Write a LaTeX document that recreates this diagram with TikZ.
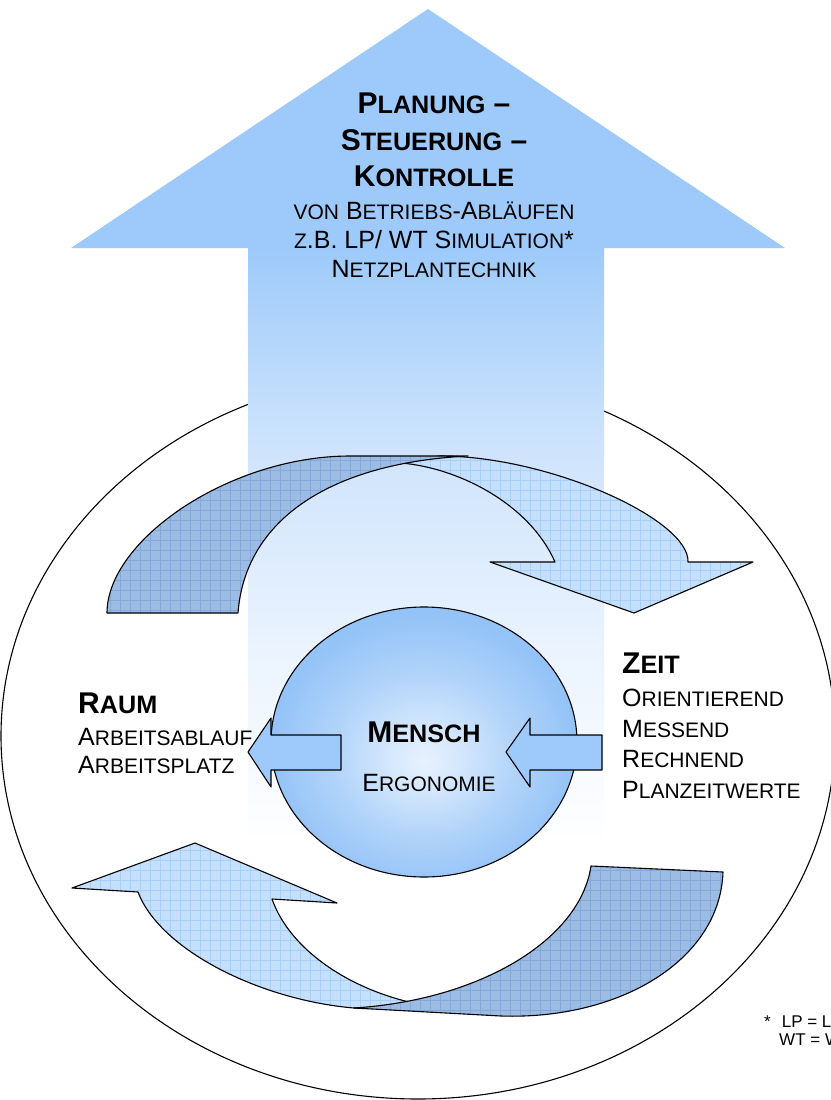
\documentclass[tikz,border=0pt]{standalone}
\usepackage{fontspec}
\setmainfont{Liberation Sans}
\usetikzlibrary{positioning}

\definecolor{arrowblue}{HTML}{9DCAFA}
\definecolor{shaftmid}{HTML}{CDE3FC}
\definecolor{shaftlow}{HTML}{EAF3FE}
\definecolor{darkhatch}{HTML}{9DBCE4}
\definecolor{darkgrid}{HTML}{84A9D8}
\definecolor{lighthatch}{HTML}{C4E0FD}
\definecolor{lightgrid}{HTML}{A9CEF8}
\definecolor{ballout}{HTML}{94C3F7}
\definecolor{ballin}{HTML}{E8F2FE}

% tikz fits the band 25bp..75bp of a shading to the path
\pgfdeclareverticalshading{shaftfade}{100bp}{color(0bp)=(white); color(27bp)=(white); color(43bp)=(shaftlow); color(59.5bp)=(shaftmid); color(75bp)=(arrowblue); color(100bp)=(arrowblue)}
\pgfdeclareradialshading{menschglow}{\pgfpoint{0bp}{-3.5bp}}{color(0bp)=(ballin); color(5bp)=(ballin!80!ballout); color(15bp)=(ballin!35!ballout); color(25bp)=(ballout); color(50bp)=(ballout)}

% small caps by hand
\makeatletter
\newcommand\kl[1]{{\fontsize{\fpeval{0.84*\f@size}}{\f@baselineskip}\selectfont #1}}
\makeatother

% the four pieces of the two turning arrows
\newcommand\upperdark{(107,613) .. controls (107,540) and (230,456) .. (350,456) -- (468,456) .. controls (330,463) and (245,520) .. (238,613) -- cycle}
\newcommand\upperlight{(401,463) -- (430,457) -- (440,456) .. controls (550,456) and (690,520) .. (688,562) -- (753,562) -- (634,613) -- (490,562) -- (555,562) .. controls (530,505) and (460,468) .. (401,463) -- cycle}
\newcommand\lowerlight{(72,888) -- (195,843) -- (337,903) -- (272,899) .. controls (290,950) and (350,990) .. (418,1004) -- (440,1008) -- (354,1008) .. controls (260,1000) and (160,950) .. (138,892) -- cycle}
\newcommand\lowerdark{(591,866) -- (723,872) .. controls (720,960) and (620,1020) .. (501,1016) -- (354,1008) .. controls (480,1000) and (580,940) .. (591,866) -- cycle}
\newcommand\hatchpiece[3]{%
  \begin{scope}
    \clip #1;
    \fill[#2] (0,0) rectangle (830,1100);
    \draw[#3, line width=0.5pt, step=10pt] (0,1100) grid (830,0);
  \end{scope}
  \draw[outline] #1;}

\begin{document}
\begin{tikzpicture}[x=1pt,y=-1pt,
  outline/.style={draw=black, line width=1.1pt, line join=round},
  titletext/.style={font={\fontsize{30}{36}\selectfont\bfseries}, inner sep=0pt},
  bodytext/.style={font={\fontsize{25}{29}\selectfont}, inner sep=0pt},
  notetext/.style={font={\fontsize{17}{19}\selectfont}, inner sep=0pt, anchor=base west}]
  \useasboundingbox (0,0) rectangle (830,1100);

  % outer ring
  \draw[outline, fill=white] (418,736) ellipse [x radius=417, y radius=363];

  % big arrow upwards
  \shade[shading=shaftfade] (248,247) rectangle (604,870);
  \fill[arrowblue] (71,248) -- (428,9) -- (785,248) -- cycle;

  % turning arrows
  \hatchpiece{\upperlight}{lighthatch}{lightgrid}
  \hatchpiece{\upperdark}{darkhatch}{darkgrid}
  \hatchpiece{\lowerlight}{lighthatch}{lightgrid}
  \hatchpiece{\lowerdark}{darkhatch}{darkgrid}

  % centre
  \shade[shading=menschglow] (424,742) ellipse [x radius=153, y radius=135];
  \draw[outline] (424,742) ellipse [x radius=153, y radius=135];

  % block arrows
  \draw[outline, fill=arrowblue] (248,752) -- (271,718) -- (271,735) -- (341,735)
    -- (341,770) -- (271,770) -- (271,787) -- cycle;
  \draw[outline, fill=arrowblue] (506,752) -- (530,718) -- (530,735) -- (602,735)
    -- (602,770) -- (530,770) -- (530,787) -- cycle;

  % texts
  \foreach \ln/\yy [count=\i] in {{P\kl{LANUNG} –}/113, {S\kl{TEUERUNG} –}/150, {K\kl{ONTROLLE}}/186}
    \node[titletext, anchor=base] (plan\i) at (434,\yy) {\ln};
  \foreach \ln/\yy [count=\i] in {{\kl{VON} B\kl{ETRIEBS}-A\kl{BLÄUFEN}}/219,
      {\kl{Z}.B. LP/ WT S\kl{IMULATION}*}/248, {N\kl{ETZPLANTECHNIK}}/277}
    \node[bodytext, anchor=base] (ablauf\i) at (434,\yy) {\ln};

  \node[titletext, anchor=base west] (raum) at (78,713) {R\kl{AUM}};
  \foreach \ln/\yy [count=\i] in {{A\kl{RBEITSABLAUF}}/745, {A\kl{RBEITSPLATZ}}/773}
    \node[bodytext, anchor=base west] (raum\i) at (78,\yy) {\ln};

  \node[titletext, anchor=base west] (zeit) at (622,673) {Z\kl{EIT}};
  \foreach \ln/\yy [count=\i] in {{O\kl{RIENTIEREND}}/706, {M\kl{ESSEND}}/737,
      {R\kl{ECHNEND}}/767, {P\kl{LANZEITWERTE}}/798}
    \node[bodytext, anchor=base west] (zeit\i) at (622,\yy) {\ln};

  \node[titletext, anchor=base] (mensch) at (424,742) {M\kl{ENSCH}};
  \node[bodytext, anchor=base] (ergo) at (429,791) {E\kl{RGONOMIE}};

  % footnote, runs past the right edge as in the source
  \node[notetext] (note1) at (764,1027) {*\hspace{11pt}LP = Lineare Programmierung};
  \node[notetext] (note2) at (779,1045) {WT = Warteschlangentheorie};
\end{tikzpicture}
\end{document}
